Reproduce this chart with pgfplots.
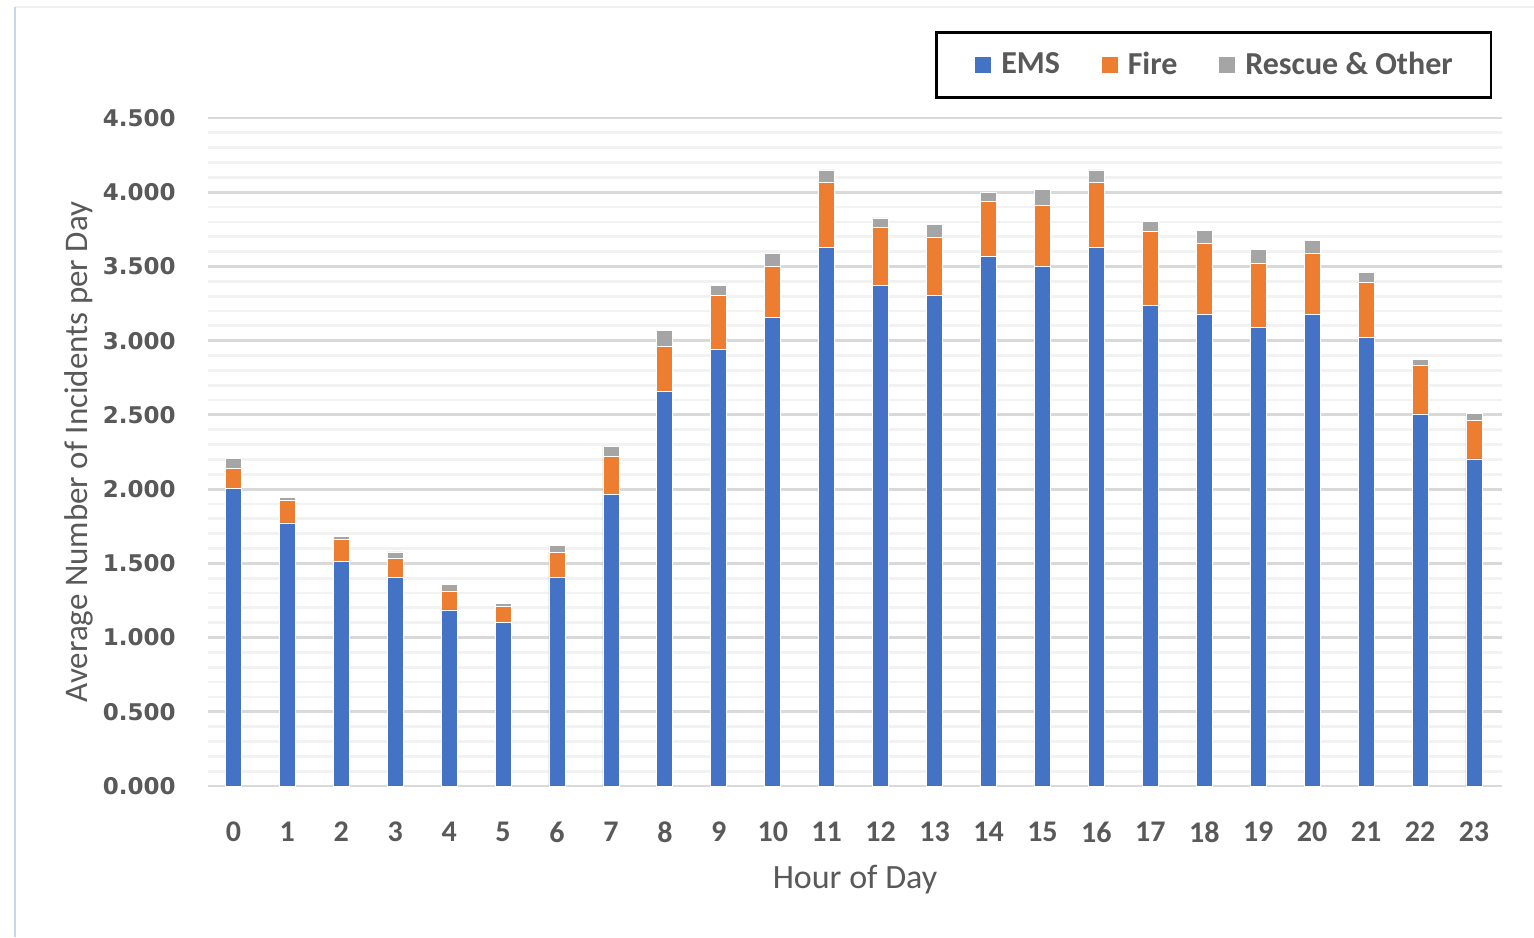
\documentclass[border=0pt]{standalone}
\usepackage{pgfplots}
\pgfplotsset{compat=1.18}
\usepackage{pgfplotstable}
\usepackage{fontspec}
\setmainfont{Carlito}
\newfontfamily\numfont{DejaVu Sans}

\definecolor{ems}{HTML}{4472C4}
\definecolor{fire}{HTML}{ED7D31}
\definecolor{rescue}{HTML}{A5A5A5}
\definecolor{txt}{HTML}{595959}
\definecolor{gridmaj}{HTML}{D9D9D9}
\definecolor{gridmin}{HTML}{F2F2F2}
\definecolor{frameL}{HTML}{C8D6EE}
\definecolor{frameT}{HTML}{EEF0F4}

% average incidents per day, by hour and type
\pgfplotstableread{
hour ems   fire  rescue
0    2.007 0.131 0.067
1    1.772 0.150 0.023
2    1.512 0.150 0.022
3    1.404 0.128 0.045
4    1.186 0.128 0.045
5    1.099 0.108 0.022
6    1.402 0.173 0.045
7    1.965 0.258 0.067
8    2.658 0.303 0.108
9    2.939 0.367 0.065
10   3.154 0.347 0.086
11   3.629 0.434 0.087
12   3.371 0.389 0.067
13   3.306 0.391 0.085
14   3.567 0.368 0.064
15   3.501 0.411 0.108
16   3.629 0.434 0.087
17   3.239 0.498 0.067
18   3.176 0.476 0.088
19   3.089 0.433 0.090
20   3.176 0.411 0.087
21   3.024 0.370 0.065
22   2.506 0.325 0.042
23   2.203 0.262 0.043
}\incidents

\pgfplotsset{sqlegend/.style={legend image code/.code={\fill[##1] (0pt,-4.25pt) rectangle (8.5pt,4.25pt);}}}

\begin{document}
\begin{tikzpicture}
\useasboundingbox (0,0) rectangle (767pt,468.5pt);
\fill[white] (0,0) rectangle (767pt,468.5pt);
\draw[frameT, line width=1pt] (7.5pt,465pt) -- (767pt,465pt);
\draw[frameL, line width=1.2pt] (7.5pt,0pt) -- (7.5pt,465pt);
\begin{axis}[
  at={(104pt,75.5pt)}, anchor=south west,
  scale only axis, width=647pt, height=334pt,
  xmin=-0.47, xmax=23.52, ymin=0, ymax=4.5,
  ybar stacked, bar width=8pt,
  xtick={0,...,23},
  ytick={0,0.5,...,4.5}, minor y tick num=4,
  ymajorgrids, yminorgrids,
  major grid style={gridmaj, line width=1.4pt},
  minor grid style={gridmin, line width=1.4pt},
  axis line style={draw=none},
  major tick length=0pt, minor tick length=0pt,
  /pgf/number format/assume math mode=true,
  xticklabel style={font=\bfseries\fontsize{15}{17}\selectfont, text=txt,
    anchor=north, inner sep=0pt, yshift=-17.6pt},
  yticklabel style={font=\numfont\bfseries\fontsize{11.5}{13}\selectfont, text=txt,
    anchor=east, inner sep=0pt, xshift=-16pt,
    /pgf/number format/.cd, fixed, fixed zerofill, precision=3},
  xlabel={Hour of Day},
  xlabel style={at={(axis description cs:0.5,-0.1527)}, anchor=base,
    font=\fontsize{17}{19}\selectfont, text=txt},
  ylabel={Average Number of Incidents per Day},
  ylabel style={at={(axis description cs:-0.0935,0.5)}, anchor=base, rotate=0,
    font=\fontsize{16.5}{18}\selectfont, text=txt},
  legend columns=3,
  legend style={at={(axis description cs:0.99227,1.1302)}, anchor=north east,
    draw=black, line width=1.25pt, fill=white,
    inner xsep=19pt, inner ysep=10pt,
    font=\bfseries\fontsize{16}{18}\selectfont, text=txt,
    nodes={inner sep=0pt},
    /tikz/every odd column/.append style={column sep=4.5pt},
    /tikz/every even column/.append style={column sep=20.5pt}},
]
\addplot[fill=ems, draw=white, line width=0.4pt, sqlegend] table[x=hour, y=ems] {\incidents};
\addplot[fill=fire, draw=white, line width=0.4pt, sqlegend] table[x=hour, y=fire] {\incidents};
\addplot[fill=rescue, draw=white, line width=0.4pt, sqlegend] table[x=hour, y=rescue] {\incidents};
\legend{EMS, Fire, Rescue \& Other}
\end{axis}
\end{tikzpicture}
\end{document}
